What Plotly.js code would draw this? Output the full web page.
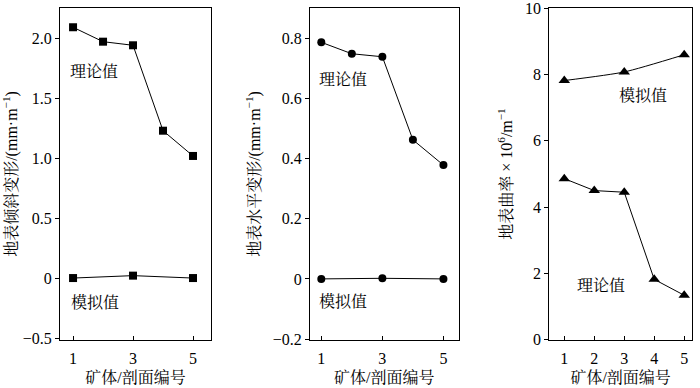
<!DOCTYPE html>
<html>
<head>
<meta charset="utf-8">
<script src="https://cdn.plot.ly/plotly-3.0.1.min.js"></script>
<style>html,body{margin:0;padding:0;background:#fff;}#chart{width:700px;height:388px;}</style>
</head>
<body>
<div id="chart"></div>
<script>
// Panel 1: surface tilt deformation
const tiltTheoryX = [1, 2, 3, 4, 5];
const tiltTheoryY = [2.09, 1.97, 1.94, 1.23, 1.02];
const tiltSimX = [1, 3, 5];
const tiltSimY = [0.005, 0.025, 0.005];
// Panel 2: surface horizontal deformation
const horizTheoryX = [1, 2, 3, 4, 5];
const horizTheoryY = [0.786, 0.748, 0.738, 0.462, 0.378];
const horizSimX = [1, 3, 5];
const horizSimY = [0.0, 0.002, 0.0];
// Panel 3: surface curvature
const curvTheoryX = [1, 2, 3, 4, 5];
const curvTheoryY = [4.86, 4.5, 4.45, 1.82, 1.34];
const curvSimX = [1, 3, 5];
const curvSimY = [7.82, 8.08, 8.6];

const tiltTicks = [-0.5, 0, 0.5, 1.0, 1.5, 2.0];
const tiltTickText = ["\u22120.5", "0", "0.5", "1.0", "1.5", "2.0"];
const horizTicks = [-0.2, 0, 0.2, 0.4, 0.6, 0.8];
const horizTickText = ["\u22120.2", "0", "0.2", "0.4", "0.6", "0.8"];
const curvTicks = [0, 2, 4, 6, 8, 10];
const curvTickText = ["0", "2", "4", "6", "8", "10"];
const xTicksSparse = [1, 3, 5];
const xTicksFull = [1, 2, 3, 4, 5];

const xTitle = "矿体/剖面编号";
const yTitles = ["地表倾斜变形/(mm·m<sup>−1</sup>)", "地表水平变形/(mm·m<sup>−1</sup>)", "地表曲率 × 10<sup>6</sup>/m<sup>−1</sup>"];
const labelTheory = "理论值";
const labelSim = "模拟值";

const FONT = "'Liberation Serif', 'Times New Roman', 'Noto Serif CJK SC', 'Noto Sans CJK SC', serif";

function tr(x, y, sym, size, xa, ya, shape) {
  return {x: x, y: y, type: 'scatter', mode: 'lines+markers', xaxis: xa, yaxis: ya,
    line: {color: '#000', width: 1, shape: shape || 'linear', smoothing: 0.6},
    marker: {symbol: sym, size: size, color: '#000', line: {width: 0}}, showlegend: false, hoverinfo: 'skip', cliponaxis: false};
}

const data = [
  tr(tiltTheoryX, tiltTheoryY, 'square', 8, 'x', 'y'),
  tr(tiltSimX, tiltSimY, 'square', 8, 'x', 'y'),
  tr(horizTheoryX, horizTheoryY, 'circle', 8, 'x2', 'y2'),
  tr(horizSimX, horizSimY, 'circle', 8, 'x2', 'y2'),
  tr(curvTheoryX, curvTheoryY, 'triangle-up', 10, 'x3', 'y3'),
  tr(curvSimX, curvSimY, 'triangle-up', 10, 'x3', 'y3', 'spline'),
];

const yDom = [48/388, 380/388];
function xa(dom, range, ticks, anchor) {
  return {domain: dom, range: range, anchor: anchor, tickmode: 'array', tickvals: ticks,
    ticks: 'inside', ticklen: 4, tickcolor: '#000', showline: true, linecolor: '#000', linewidth: 1, mirror: true,
    showgrid: false, zeroline: false, ticklabelstandoff: 4, ticklabeloverflow: 'allow',
    tickfont: {size: 16, family: FONT, color: '#000'},
    title: {text: xTitle, font: {size: 16, family: FONT, color: '#000'}, standoff: 5}};
}
function ya(range, ticks, text, title, anchor) {
  return {domain: yDom, range: range, anchor: anchor, tickmode: 'array', tickvals: ticks, ticktext: text,
    ticks: 'outside', ticklen: 4, tickcolor: '#000', showline: true, linecolor: '#000', linewidth: 1, mirror: true,
    showgrid: false, zeroline: false, ticklabeloverflow: 'allow',
    tickfont: {size: 16, family: FONT, color: '#000'},
    title: {text: title, font: {size: 16, family: FONT, color: '#000'}, standoff: 8}};
}

function ann(text, x, y, xr, yr) {
  return {text: text, x: x, y: y, xref: xr, yref: yr, showarrow: false,
    font: {size: 16, family: FONT, color: '#000'}, xanchor: 'center', yanchor: 'middle'};
}

const layout = {
  width: 700, height: 388,
  margin: {l: 0, r: 0, t: 0, b: 0},
  paper_bgcolor: '#fff', plot_bgcolor: '#fff',
  xaxis: xa([60/700, 211/700], [0.565, 5.6], xTicksSparse, 'y'),
  yaxis: ya([-0.51, 2.25], tiltTicks, tiltTickText, yTitles[0], 'x'),
  xaxis2: xa([310/700, 458.7/700], [0.63, 5.5], xTicksSparse, 'y2'),
  yaxis2: ya([-0.203, 0.9], horizTicks, horizTickText, yTitles[1], 'x2'),
  xaxis3: xa([549.3/700, 692/700], [0.5, 5.26], xTicksFull, 'y3'),
  yaxis3: ya([-0.01, 10.01], curvTicks, curvTickText, yTitles[2], 'x3'),
  annotations: [
    ann(labelTheory, 1.7, 1.72, 'x', 'y'),
    ann(labelSim, 1.73, -0.19, 'x', 'y'),
    ann(labelTheory, 1.7, 0.664, 'x2', 'y2'),
    ann(labelSim, 1.71, -0.075, 'x2', 'y2'),
    ann(labelSim, 3.62, 7.37, 'x3', 'y3'),
    ann(labelTheory, 2.22, 1.65, 'x3', 'y3'),
  ]
};

Plotly.newPlot('chart', data, layout, {displayModeBar: false, staticPlot: true});
</script>
</body>
</html>
